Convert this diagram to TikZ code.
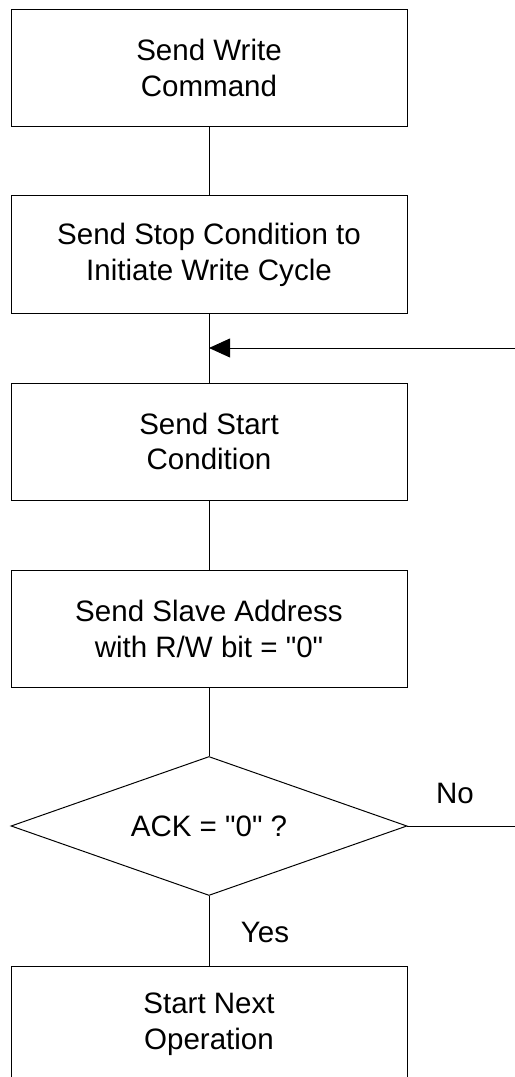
\documentclass[tikz,border=0pt]{standalone}
\usepackage{fontspec}
\setmainfont{Liberation Sans}[Ligatures=TeXOff]
\usetikzlibrary{arrows.meta,shapes.geometric}

\begin{document}
\begin{tikzpicture}[
    stepbox/.style={
        rectangle,
        draw=black,
        line width=0.7pt,
        minimum width=9.9cm,
        minimum height=2.925cm,
        inner sep=0pt,
        align=center,
        font=\fontsize{21}{25.5}\selectfont
    },
    decision/.style={
        diamond,
        aspect=2.85,
        draw=black,
        line width=0.7pt,
        minimum width=9.9cm,
        minimum height=3.475cm,
        inner sep=0pt,
        font=\fontsize{21}{25.5}\selectfont
    },
    flow/.style={
        draw=black,
        line width=0.7pt
    },
    answer/.style={
        font=\fontsize{21}{25.5}\selectfont
    }
]
\useasboundingbox (0,0) rectangle (12.875,26.925);
\clip (0,0) rectangle (12.875,26.925);

% Stappen
\node[stepbox] (write) at (5.225,25.225)
    {Send Write\\Command};
\node[stepbox] (stop) at (5.225,20.5625)
    {Send Stop Condition to\\Initiate Write Cycle};
\node[stepbox] (start) at (5.225,15.8875)
    {Send Start\\Condition};
\node[stepbox] (slave) at (5.225,11.2)
    {Send Slave Address\\with R/W bit = "0"};
\node[decision] (ack) at (5.225,6.275)
    {ACK = "0" ?};
\node[stepbox] (next) at (5.225,1.3125)
    {Start Next\\Operation};

% Terugkoppeling
\coordinate (join) at (5.225,18.225);
\coordinate (retry) at (12.875,18.225);
\coordinate (noend) at (12.875,6.275);

% Verbindingen
\draw[flow] (write) -- (stop);
\draw[flow] (stop) -- (start);
\draw[flow] (start) -- (slave);
\draw[flow] (slave) -- (ack);
\draw[flow] (ack) -- (next);
\draw[flow] (ack.east) -- (noend);
\draw[flow, -{Triangle[length=15pt,width=13.5pt]}] (retry) -- (join);

% Labels
\node[answer] (no) at (11.375,7.1) {No};
\node[answer] (yes) at (6.625,3.625) {Yes};

\end{tikzpicture}
\end{document}
